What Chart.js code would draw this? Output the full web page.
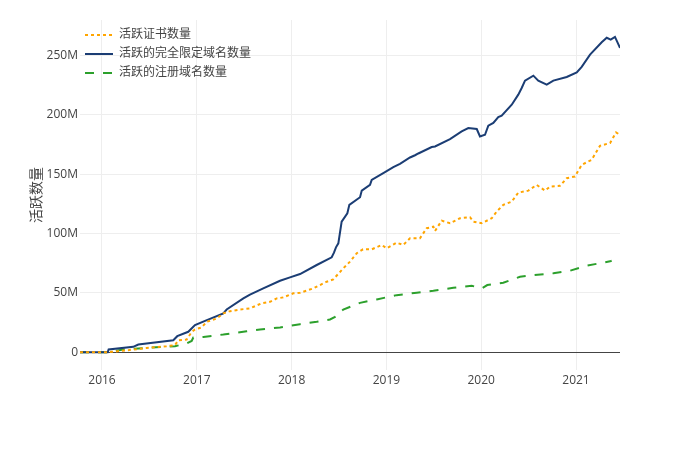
<!DOCTYPE html>
<html>
<head>
<meta charset="utf-8">
<script src="https://cdn.jsdelivr.net/npm/chart.js@4"></script>
<style>
  body { margin: 0; background: #fff; }
</style>
</head>
<body>
<canvas id="chart" width="700" height="450"></canvas>
<script>
// decimal years on x, millions on y
const certX = [2015.768, 2016.063, 2016.102, 2016.277, 2016.472, 2016.682, 2016.770, 2016.805, 2016.893, 2016.946, 2016.981, 2017.052, 2017.104, 2017.210, 2017.280, 2017.350, 2017.456, 2017.561, 2017.680, 2017.772, 2017.843, 2017.912, 2018.018, 2018.089, 2018.229, 2018.370, 2018.440, 2018.545, 2018.616, 2018.687, 2018.753, 2018.845, 2018.950, 2019.003, 2019.108, 2019.178, 2019.249, 2019.354, 2019.425, 2019.495, 2019.513, 2019.583, 2019.671, 2019.776, 2019.882, 2019.917, 2020.005, 2020.111, 2020.163, 2020.233, 2020.322, 2020.391, 2020.497, 2020.585, 2020.673, 2020.726, 2020.831, 2020.902, 2020.989, 2021.060, 2021.165, 2021.253, 2021.359, 2021.422, 2021.464];
const certY = [0, 0, 0.3, 1.7, 3.6, 5.1, 5.9, 10.1, 10.7, 17.1, 19.2, 20.9, 25.6, 28.4, 32.7, 34.6, 36, 36.9, 41.1, 42.5, 45.3, 46.2, 49.6, 50.1, 53.8, 59.4, 61.4, 70.7, 76.3, 83.4, 86.7, 86.7, 90.4, 87.6, 92.3, 90.4, 96, 96, 104.5, 105.8, 102.2, 110.9, 108.7, 112.9, 113.8, 110, 108.7, 112.9, 118.5, 124.2, 126.9, 134.5, 136.2, 141, 136.2, 139.6, 140.2, 146.7, 148.1, 157.9, 162.2, 174, 176.3, 185.2, 183.3];

const fqdnX = [2015.768, 2016.060, 2016.070, 2016.330, 2016.383, 2016.752, 2016.794, 2016.910, 2016.981, 2017.087, 2017.280, 2017.315, 2017.491, 2017.561, 2017.701, 2017.878, 2017.983, 2018.089, 2018.265, 2018.423, 2018.447, 2018.468, 2018.493, 2018.528, 2018.588, 2018.609, 2018.722, 2018.740, 2018.827, 2018.845, 2018.985, 2019.073, 2019.143, 2019.249, 2019.302, 2019.337, 2019.478, 2019.513, 2019.671, 2019.794, 2019.864, 2019.953, 2019.987, 2020.040, 2020.075, 2020.128, 2020.180, 2020.216, 2020.322, 2020.391, 2020.427, 2020.462, 2020.550, 2020.602, 2020.691, 2020.761, 2020.902, 2021.008, 2021.060, 2021.148, 2021.271, 2021.324, 2021.366, 2021.411, 2021.464];
const fqdnY = [0, 0, 2.3, 4.5, 6.5, 10.1, 13.5, 17.2, 22.8, 26.4, 32.7, 36, 45.3, 48.5, 53.8, 60.2, 63.1, 65.9, 73.5, 80, 83.9, 88.4, 91.8, 110, 117.1, 124.2, 130.6, 136.2, 141, 145.3, 151.8, 156, 158.8, 164.1, 166, 167.5, 172.9, 173.4, 179.6, 186.1, 188.9, 188.1, 181.8, 183.3, 190.9, 193.2, 198.2, 199.3, 208.6, 217.1, 222.7, 228.9, 233.1, 228.9, 225.5, 228.9, 232, 235.9, 240.5, 250.8, 261.2, 265, 263.5, 265.8, 256.5];

const regX = [2015.768, 2016.063, 2016.225, 2016.472, 2016.770, 2016.893, 2016.946, 2016.963, 2017.069, 2017.280, 2017.526, 2017.667, 2017.878, 2018.089, 2018.265, 2018.405, 2018.458, 2018.545, 2018.722, 2018.898, 2019.108, 2019.320, 2019.495, 2019.706, 2019.900, 2020.005, 2020.064, 2020.233, 2020.409, 2020.550, 2020.761, 2020.937, 2021.113, 2021.359, 2021.376];
const regY = [0, 0, 2.3, 3.6, 5.1, 7.3, 9.5, 12.4, 12.9, 14.9, 17.7, 19.2, 20.9, 23.6, 25.6, 27.6, 29.8, 36, 41.6, 44.5, 48.1, 50.1, 51.8, 54.3, 56, 53.8, 56.6, 58.5, 63.6, 65, 66.5, 68.7, 72.9, 76.6, 77.1];

const seriesNames = ['活跃证书数量', '活跃的完全限定域名数量', '活跃的注册域名数量'];
const xTicks = [2016, 2017, 2018, 2019, 2020, 2021];
const yTicks = [0, 50, 100, 150, 200, 250];
const yTickLabels = ['0', '50M', '100M', '150M', '200M', '250M'];

const toPoints = (xs, ys) => xs.map((x, i) => ({ x: x, y: ys[i] }));

const font = { family: "'Open Sans', 'Noto Sans CJK SC', sans-serif", size: 12 };

// put the legend inside the plot, top left, like plotly
const legendShift = {
    id: 'legendShift',
    afterLayout(chart) {
        const lg = chart.legend;
        const h = lg.bottom - lg.top;
        lg.top = chart.chartArea.top + 2;
        lg.bottom = lg.top + h;
        lg.left -= 2; lg.right -= 2;
    }
};

new Chart(document.getElementById('chart'), {
    type: 'line',
    data: {
        datasets: [{
            label: seriesNames[0],
            data: toPoints(certX, certY),
            borderColor: '#ffa500',
            backgroundColor: '#ffa500',
            borderWidth: 2,
            borderDash: [3, 3]
        }, {
            label: seriesNames[1],
            data: toPoints(fqdnX, fqdnY),
            borderColor: '#1b3d74',
            backgroundColor: '#1b3d74',
            borderWidth: 2
        }, {
            label: seriesNames[2],
            data: toPoints(regX, regY),
            borderColor: '#2ca02c',
            backgroundColor: '#2ca02c',
            borderWidth: 2,
            borderDash: [9, 9]
        }]
    },
    options: {
        responsive: false,
        animation: false,
        layout: { padding: { left: 0, top: 20, right: 80, bottom: 0 } },
        elements: { point: { radius: 0 }, line: { tension: 0 } },
        plugins: {
            legend: {
                position: 'chartArea',
                align: 'start',
                labels: {
                    usePointStyle: true,
                    pointStyle: 'line',
                    pointStyleWidth: 28,
                    padding: 7,
                    color: '#444',
                    font: font,
                    generateLabels: chart => {
                        const items = Chart.defaults.plugins.legend.labels.generateLabels(chart);
                        items.forEach(it => {
                            const ds = chart.data.datasets[it.datasetIndex];
                            it.lineDash = ds.borderDash || [];
                            it.lineWidth = 2;
                            it.strokeStyle = ds.borderColor;
                        });
                        return items;
                    }
                }
            },
            tooltip: { enabled: false }
        },
        scales: {
            x: {
                type: 'linear',
                min: 2015.768,
                max: 2021.464,
                afterFit: s => { s.height = 80; },
                afterBuildTicks: s => { s.ticks = xTicks.map(v => ({ value: v })); },
                grid: { color: '#eeeeee', drawTicks: false },
                border: { display: false },
                ticks: { color: '#444', font: font, padding: 3, maxRotation: 0, callback: v => String(v) }
            },
            y: {
                min: -15,
                max: 280,
                afterFit: s => { s.width = 80; },
                afterBuildTicks: s => { s.ticks = yTicks.map(v => ({ value: v })); },
                grid: {
                    drawTicks: false,
                    color: c => (c.tick && c.tick.value === 0) ? '#444444' : '#eeeeee'
                },
                border: { display: false },
                ticks: {
                    color: '#444', font: font, padding: 2,
                    callback: v => yTickLabels[yTicks.indexOf(v)]
                },
                title: {
                    display: true,
                    text: '活跃数量',
                    color: '#444',
                    font: { family: font.family, size: 14 },
                    padding: { top: 29, bottom: 0 }
                }
            }
        }
    },
    plugins: [legendShift]
});
</script>
</body>
</html>
